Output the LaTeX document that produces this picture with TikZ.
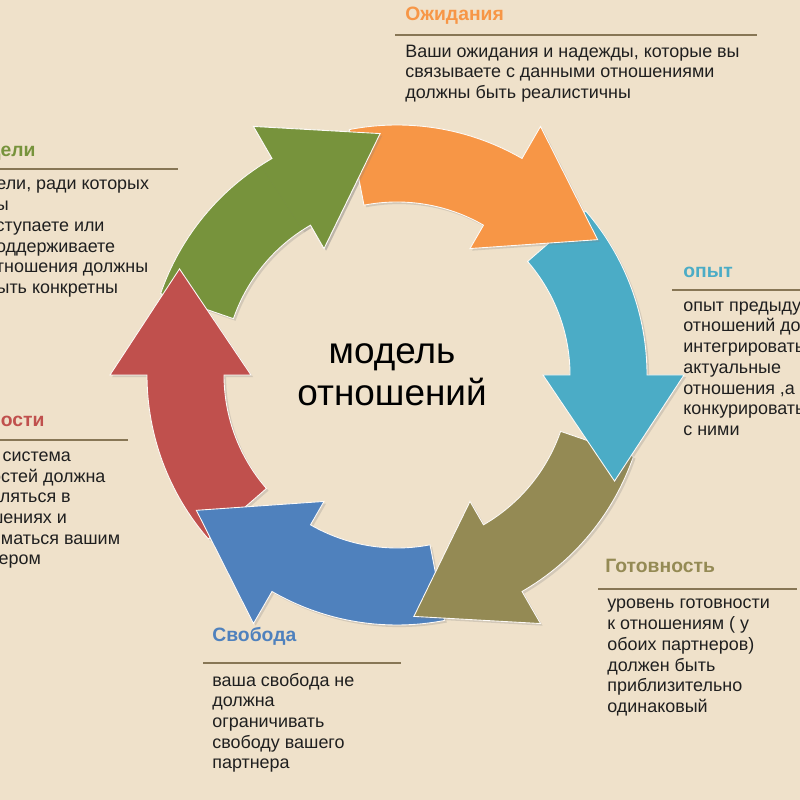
\documentclass[tikz,border=0pt]{standalone}
\usepackage{fontspec}
\setmainfont{Liberation Sans}
\usetikzlibrary{shadows}
\definecolor{paper}{RGB}{239,225,202}
\definecolor{ruleC}{RGB}{135,118,85}
\definecolor{cOrange}{RGB}{247,150,70}
\definecolor{cCyan}{RGB}{75,172,198}
\definecolor{cOlive}{RGB}{148,138,84}
\definecolor{cBlue}{RGB}{79,129,189}
\definecolor{cRed}{RGB}{192,80,77}
\definecolor{cGreen}{RGB}{119,147,60}
\tikzset{
  ttl/.style={anchor=base west, inner sep=0pt, font=\bfseries\fontsize{11}{13}\selectfont},
  txt/.style={anchor=base west, inner sep=0pt, align=left, text=black!88, font=\fontsize{10.2}{11.8}\selectfont},
  rule/.style={draw=ruleC, line width=0.8pt},
  seg/.style={draw=white!85!paper, line width=0.5pt,
    drop shadow={shadow xshift=1.2pt, shadow yshift=-1.2pt, opacity=0.25}}
}
\newcommand{\cyclearrow}[2]{%
  \path[seg, fill=#2] ({#1+41}:5.0) arc[start angle={#1+41}, end angle=#1, radius=5.0]
    -- (#1:5.74) -- ({#1-26}:4.84) -- (#1:2.92) -- (#1:3.46)
    arc[start angle=#1, end angle={#1+41}, radius=3.46] -- cycle;}
\begin{document}
\begin{tikzpicture}
\useasboundingbox (0,0) rectangle (16,16);
\clip (0,0) rectangle (16,16);
\fill[paper] (0,0) rectangle (16,16);

\begin{scope}[shift={(7.94,8.5)}]
\foreach \a/\c in {120/cGreen,180/cRed,240/cBlue,300/cOlive,360/cCyan,420/cOrange}
{
    \cyclearrow{\a}{\c}
}
\begin{scope}
    \clip (0,0) -- (123:7) arc[start angle=123, end angle=86, radius=7] -- cycle;
    \cyclearrow{120}{cGreen}
\end{scope}
\end{scope}

\node (model) at (7.84,8.5)[align=center, font=\fontsize{21}{24}\selectfont]{модель\\отношений};

\node (expTitle) at (8.1,15.59)[ttl, text=cOrange]{Ожидания};
\draw[rule] (7.9,15.3)--(15.14,15.3);
\node (expText) at (8.1,14.03)[txt]{Ваши ожидания и надежды, которые вы\\связываете с данными отношениями\\должны быть реалистичны};

\node (goalTitle) at (-0.28,12.86)[ttl, text=cGreen]{Цели};
\draw[rule] (-0.2,12.62)--(3.56,12.62);
\node (goalText) at (-0.28,10.13)[txt]{цели, ради которых\\вы\\вступаете или\\поддерживаете\\отношения должны\\быть конкретны};

\node (pastTitle) at (13.66,10.44)[ttl, text=cCyan]{опыт};
\draw[rule] (13.44,10.2)--(16.2,10.2);
\node (pastText) at (13.66,7.29)[txt]{опыт предыдущих\\отношений должен\\интегрироваться в\\актуальные\\отношения ,а {\color{cOrange}не}\\конкурировать\\с ними};

\node (valTitle) at (-0.96,7.46)[ttl, text=cRed]{Ценности};
\draw[rule] (-0.2,7.2)--(2.56,7.2);
\node (valText) at (-0.98,4.7)[txt]{Ваша система\\ценностей должна\\проявляться в\\отношениях и\\приниматься вашим\\партнером};

\node (readyTitle) at (12.1,4.54)[ttl, text=cOlive]{Готовность};
\draw[rule] (11.96,4.22)--(15.94,4.22);
\node (readyText) at (12.14,1.75)[txt]{уровень готовности\\к отношениям ( у\\обоих партнеров)\\должен быть\\приблизительно\\одинаковый};

\node (freeTitle) at (4.24,3.16)[ttl, text=cBlue]{Свобода};
\draw[rule] (4.06,2.74)--(8.02,2.74);
\node (freeText) at (4.24,0.62)[txt]{ваша свобода не\\должна\\ограничивать\\свободу вашего\\партнера};
\end{tikzpicture}
\end{document}
